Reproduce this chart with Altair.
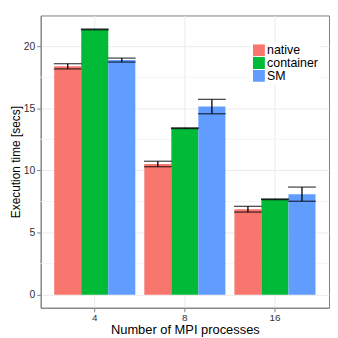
import altair as alt
import pandas as pd

procs = ["4", "8", "16"]
series = ["native", "container", "SM"]
native_mean = [18.38, 10.52, 6.88]
native_err = [0.21, 0.22, 0.23]
container_mean = [21.35, 13.40, 7.68]
container_err = [0.03, 0.03, 0.03]
sm_mean = [18.88, 15.14, 8.09]
sm_err = [0.16, 0.58, 0.57]
colors = ["#F8766D", "#00BA38", "#619CFF"]
y_ticks = [0, 5, 10, 15, 20]
y_minor = [2.5, 7.5, 12.5, 17.5]

rows = []
for s, m, e in zip(series, [native_mean, container_mean, sm_mean],
                   [native_err, container_err, sm_err]):
    for p, mv, ev in zip(procs, m, e):
        rows.append({"procs": p, "series": s, "mean": mv, "lo": mv - ev, "hi": mv + ev})
df = pd.DataFrame(rows)
minor_df = pd.DataFrame({"v": y_minor})

FONT = "Liberation Sans"
yscale = alt.Scale(domain=[-1.05, 22.47], nice=False, zero=False)
xenc = alt.X("procs:N", sort=procs, scale=alt.Scale(paddingInner=0, paddingOuter=0.1),
             title="Number of MPI processes",
             axis=alt.Axis(labelAngle=0, labelFontSize=10, labelColor="#333333",
                           titleFontSize=13, titleColor="black", titleFontWeight="normal",
                           titleFont=FONT, labelFont=FONT, titlePadding=1,
                           tickColor="#7f7f7f", tickSize=4, domainColor="#7f7f7f",
                           gridColor="#ebebeb", grid=True, labelPadding=1))
xoff = alt.XOffset("series:N", sort=series,
                   scale=alt.Scale(paddingInner=0, paddingOuter=0.1667))

minor = alt.Chart(minor_df).mark_rule(color="#f4f4f4", strokeWidth=1).encode(
    y=alt.Y("v:Q", scale=yscale))

bars = alt.Chart(df).mark_bar(opacity=1).encode(
    x=xenc,
    xOffset=xoff,
    y=alt.Y("mean:Q", scale=yscale, title="Execution time [secs]",
            axis=alt.Axis(values=y_ticks, labelFontSize=10.5, labelColor="#333333",
                          titleFontSize=12, titleColor="black", titleFontWeight="normal",
                          titleFont=FONT, labelFont=FONT, titlePadding=1,
                          tickColor="#7f7f7f", tickSize=4, domainColor="#7f7f7f",
                          gridColor="#ebebeb", labelPadding=2)),
    y2=alt.datum(0),
    color=alt.Color("series:N", sort=series,
                    scale=alt.Scale(domain=series, range=colors),
                    legend=alt.Legend(orient="none", legendX=212, legendY=27, title=None,
                                      symbolType="square", symbolSize=144,
                                      symbolStrokeWidth=0, symbolOpacity=1,
                                      labelFontSize=12.5, labelFont=FONT, labelColor="black",
                                      rowPadding=0, fillColor="white", padding=2,
                                      labelOffset=2, clipHeight=12)),
)

err = alt.Chart(df).mark_rule(color="black", strokeWidth=1.3).encode(
    x=alt.X("procs:N", sort=procs), xOffset=xoff,
    y=alt.Y("lo:Q", scale=yscale), y2="hi:Q")

cap_lo = alt.Chart(df).mark_tick(color="black", size=28, thickness=1.3, orient="horizontal").encode(
    x=alt.X("procs:N", sort=procs), xOffset=xoff, y=alt.Y("lo:Q", scale=yscale))
cap_hi = alt.Chart(df).mark_tick(color="black", size=28, thickness=1.3, orient="horizontal").encode(
    x=alt.X("procs:N", sort=procs), xOffset=xoff, y=alt.Y("hi:Q", scale=yscale))

chart = alt.layer(minor, bars, err, cap_lo, cap_hi).properties(
    width=291, height=295,
    autosize=alt.AutoSizeParams(type="none"),
    padding={"left": 33, "top": 6, "right": 1, "bottom": 31},
    background="white",
).configure_view(stroke="#7f7f7f", strokeWidth=1).configure_axis(
    labelFont=FONT, titleFont=FONT)

chart.save("out.html", embed_options={"renderer": "svg", "actions": False})
